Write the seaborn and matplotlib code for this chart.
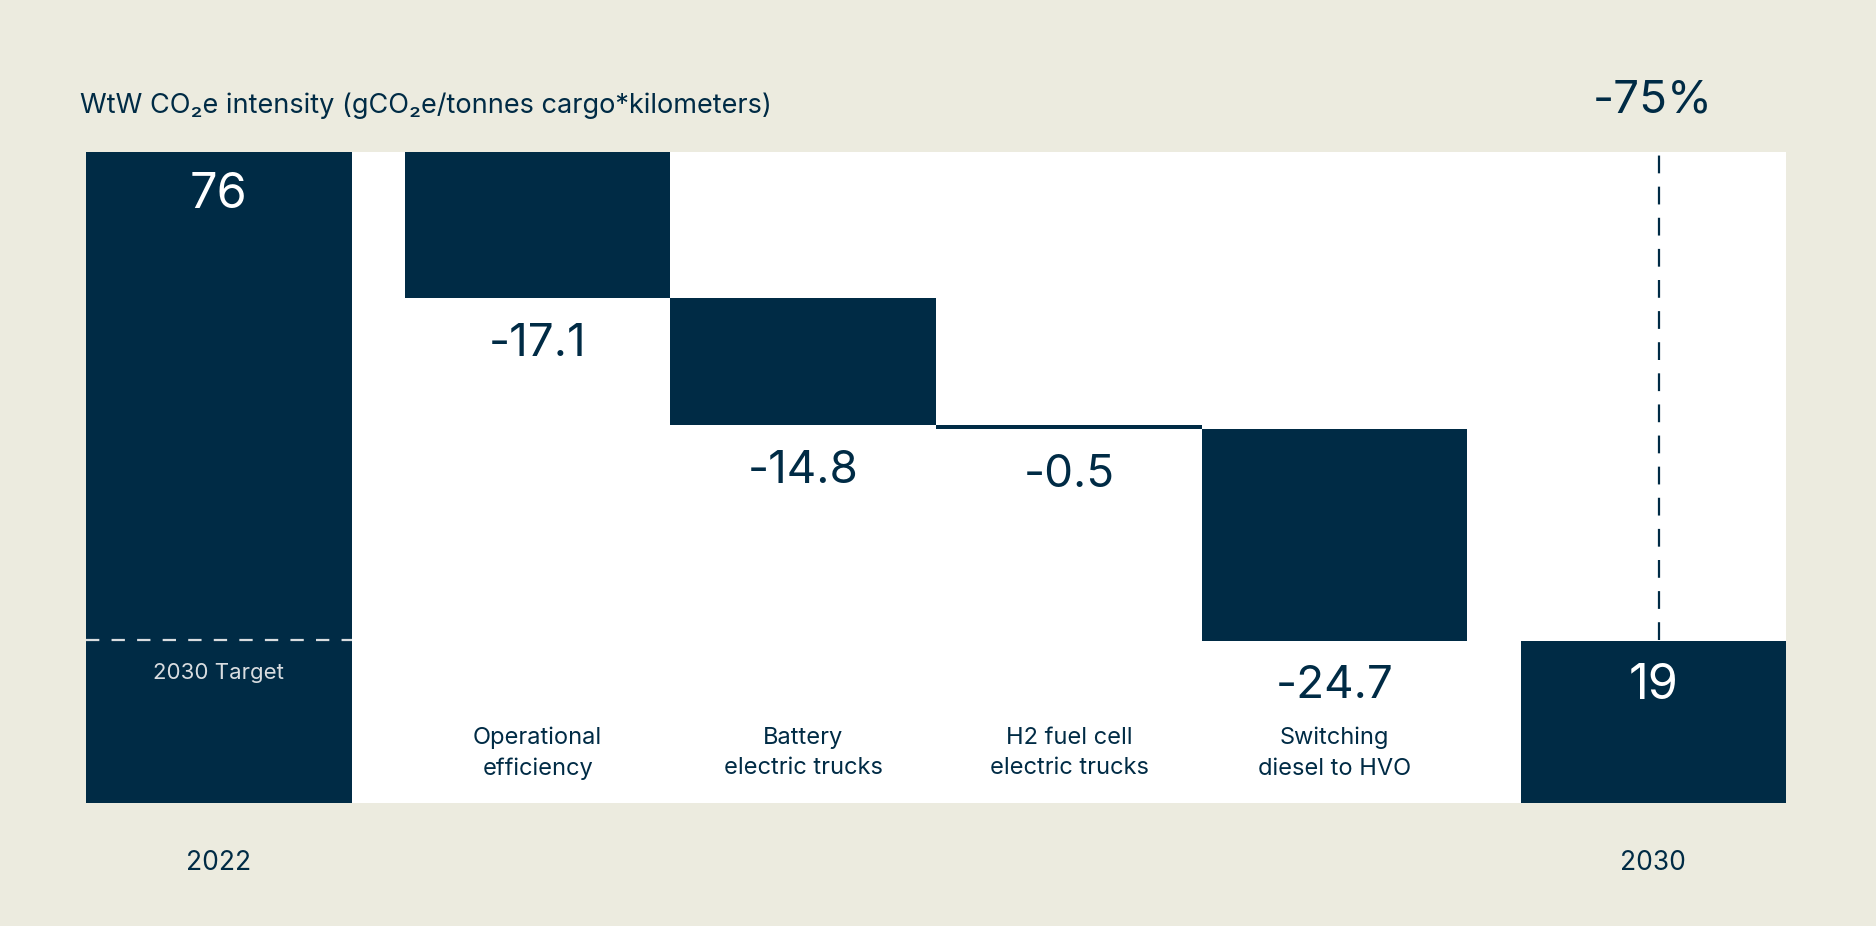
import numpy as np
import matplotlib.pyplot as plt
import pandas as pd
import seaborn as sns

# data
steps = ['2022', 'Operational\nefficiency', 'Battery\nelectric trucks',
         'H2 fuel cell\nelectric trucks', 'Switching\ndiesel to HVO', '2030']
start_value = 76
deltas = [-17.1, -14.8, -0.5, -24.7]
end_value = 19
positions = [0, 1.2, 2.2, 3.2, 4.2, 5.4]

NAVY = '#002b45'
BG = '#ecebdf'

# waterfall tops / bottoms
levels = [start_value] + list(start_value + np.cumsum(deltas))
tops = [start_value] + [levels[i] for i in range(len(deltas))] + [levels[-1]]
bottoms = [0] + [levels[i + 1] for i in range(len(deltas))] + [0]

df = pd.DataFrame({'pos': positions, 'top': tops, 'bottom': bottoms, 'step': steps})

sns.set_theme(style='white')
plt.rcParams['font.family'] = ['Inter', 'DejaVu Sans']

fig = plt.figure(figsize=(18.76, 9.26), dpi=100, facecolor=BG)
ax = fig.add_axes([0.0459, 0.133, 0.9062, 0.703])
ax.set_facecolor('white')

# full height bars, then white bars hide the part below each floating step
sns.barplot(data=df, x='pos', y='top', native_scale=True, width=1.0,
            color=NAVY, saturation=1, linewidth=0, ax=ax)
sns.barplot(data=df, x='pos', y='bottom', native_scale=True, width=1.0,
            color='white', saturation=1, linewidth=0, ax=ax)

ax.set_xlim(-0.5, 5.9)
ax.set_ylim(0, start_value)
ax.set_xticks([])
ax.set_yticks([])
ax.set_xlabel('')
ax.set_ylabel('')
sns.despine(ax=ax, left=True, bottom=True)

# target line in the 2022 bar and guide in the 2030 column
ax.plot([-0.5, 0.5], [end_value, end_value], color='#d9dde0', lw=1.6,
        dashes=(6, 5.5))
ax.plot([5.42, 5.42], [end_value, start_value], color=NAVY, lw=1.6,
        dashes=(8, 6))

ax.text(0, 71, str(start_value), color='white', fontsize=35,
        ha='center', va='center')
ax.text(0, 15.2, '2030 Target', color='#d9dde0', fontsize=16,
        ha='center', va='center')
ax.text(5.4, 13.6, str(end_value), color='white', fontsize=35,
        ha='center', va='center')

for i, d in enumerate(deltas):
    ax.text(positions[i + 1], bottoms[i + 1] - 5.3, f'{d:.1f}', color=NAVY,
            fontsize=33, ha='center', va='center')
    ax.text(positions[i + 1], 5.8, steps[i + 1], color=NAVY, fontsize=17,
            ha='center', va='center', linespacing=1.5)

for p, lab in [(positions[0], steps[0]), (positions[-1], steps[-1])]:
    ax.text(p, -7, lab, color=NAVY, fontsize=19, ha='center', va='center',
            clip_on=False)

fig.text(0.0427, 0.886, 'WtW CO\u2082e intensity (gCO\u2082e/tonnes cargo*kilometers)',
         color=NAVY, fontsize=19.5, ha='left', va='center')
fig.text(0.881, 0.891, '-75%', color=NAVY, fontsize=33, ha='center', va='center')

fig.savefig('out.png', dpi=100, facecolor=BG)
